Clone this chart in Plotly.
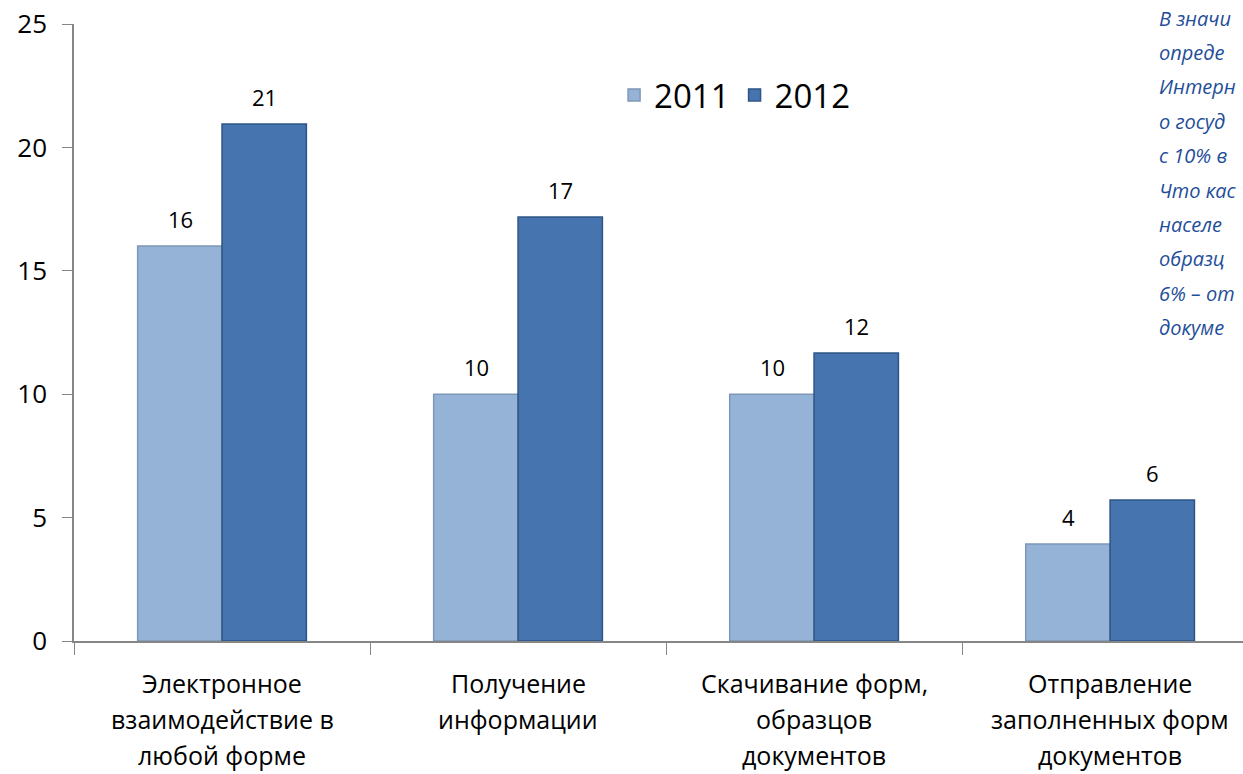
import plotly.graph_objects as go

categories = [
    "Электронное взаимодействие в любой форме",
    "Получение информации",
    "Скачивание форм, образцов документов",
    "Отправление заполненных форм документов",
]
category_label_lines = [
    ["Электронное", "взаимодействие в", "любой форме"],
    ["Получение", "информации"],
    ["Скачивание форм,", "образцов", "документов"],
    ["Отправление", "заполненных форм", "документов"],
]
series_names = ["2011", "2012"]
values_2011 = [16.0, 10.0, 10.0, 3.93]
values_2012 = [20.95, 17.18, 11.67, 5.71]
side_text_lines = [
    "В значи", "опреде", "Интерн", "о госуд", "с 10% в",
    "Что кас", "населе", "образц", "6% – от", "докуме",
]

font_family = "Open Sans, Noto Sans, sans-serif"

fig = go.Figure()
fig.add_trace(go.Bar(
    name=series_names[0], x=categories, y=values_2011,
    marker=dict(color="#95B3D7", line=dict(color="#7F97B5", width=1.5)),
))
fig.add_trace(go.Bar(
    name=series_names[1], x=categories, y=values_2012,
    marker=dict(color="#4674AE", line=dict(color="#2E5586", width=1.5)),
))

annotations = []
# data labels above each bar
for vals, shift in ((values_2011, -42), (values_2012, 42)):
    for cat, v in zip(categories, vals):
        annotations.append(dict(
            x=cat, y=v, xref="x", yref="y", xshift=shift, yshift=27,
            xanchor="center", yanchor="middle", showarrow=False,
            text=f"{v:.0f}", font=dict(size=22, color="#000000", family=font_family),
        ))
# category labels (multi-line, wide line spacing)
for cat, lines in zip(categories, category_label_lines):
    for j, line in enumerate(lines):
        annotations.append(dict(
            x=cat, y=0, xref="x", yref="paper", yshift=-(42 + 36 * j),
            xanchor="center", yanchor="middle", showarrow=False,
            text=line, font=dict(size=25, color="#000000", family=font_family),
        ))
# right-hand italic text block (cut at the picture's edge)
for j, line in enumerate(side_text_lines):
    annotations.append(dict(
        x=0.9264, y=1, xref="paper", yref="paper", yshift=-(-6 + 34.4 * j),
        xanchor="left", yanchor="middle", showarrow=False, align="left",
        text=line, font=dict(size=20, color="#1F4E99", family=font_family, style="italic"),
    ))

fig.update_layout(
    width=1243, height=774,
    margin=dict(l=74, r=0, t=24, b=133, autoexpand=False),
    paper_bgcolor="white", plot_bgcolor="white",
    barmode="group", bargap=0.43, bargroupgap=0,
    font=dict(family=font_family, color="#000000"),
    showlegend=True,
    legend=dict(
        orientation="h", x=0.462, y=0.885, xanchor="left", yanchor="middle",
        font=dict(size=33, family=font_family), bgcolor="rgba(0,0,0,0)",
        traceorder="normal",
    ),
    xaxis=dict(
        type="category", range=[-0.5, 3.449], automargin=False,
        showline=True, linecolor="#868686", linewidth=1.5,
        ticks="outside", tickson="boundaries", ticklen=12, tickcolor="#868686",
        showticklabels=False, showgrid=False,
    ),
    yaxis=dict(
        range=[0, 25], tickvals=[0, 5, 10, 15, 20, 25], automargin=False,
        showline=True, linecolor="#868686", linewidth=1.5,
        ticks="outside", ticklen=10, tickcolor="#868686", ticklabelstandoff=10,
        ticklabeloverflow="allow",
        tickfont=dict(size=26, family=font_family),
        showgrid=False, zeroline=False,
    ),
    annotations=annotations,
)

fig.write_html(
    "out.html",
    config={"displayModeBar": False},
    post_script="document.body.style.margin='0';document.body.style.overflow='hidden';",
)
